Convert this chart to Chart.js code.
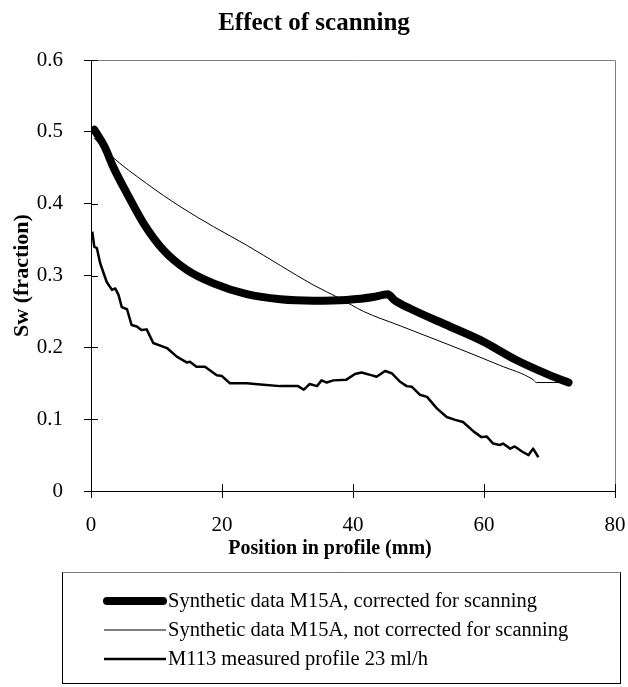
<!DOCTYPE html>
<html><head><meta charset="utf-8">
<script src="https://cdn.jsdelivr.net/npm/chart.js@4/dist/chart.umd.min.js"></script>
<style>html,body{margin:0;padding:0;background:#fff;}#wrap{width:628px;height:687px;}</style>
</head><body><div id="wrap"><canvas id="c" width="628" height="687"></canvas></div>
<script>
const chartTitle = 'Effect of scanning';
const xAxisTitle = 'Position in profile (mm)';
const yAxisTitle = 'Sw (fraction)';
const xTickValues = [0, 20, 40, 60, 80];
const yTickValues = [0, 0.1, 0.2, 0.3, 0.4, 0.5, 0.6];
const seriesNames = [
  'Synthetic data M15A, corrected for scanning',
  'Synthetic data M15A, not corrected for scanning',
  'M113 measured profile 23 ml/h'
];
const correctedX = [0.5, 2.1, 3.4, 5.5, 8.0, 11.0, 14.6, 18.7, 23.8, 28.9, 33.9, 39.0, 43.1, 44.6, 45.3, 46.3, 48.7, 54.8, 59.9, 65.0, 70.1, 72.9];
const correctedY = [0.503, 0.479, 0.451, 0.414, 0.373, 0.336, 0.308, 0.289, 0.274, 0.267, 0.265, 0.266, 0.270, 0.273, 0.274, 0.266, 0.254, 0.229, 0.208, 0.182, 0.161, 0.151];
const uncorrectedX = [0.5, 2.9, 8.5, 13.6, 18.7, 23.8, 28.9, 33.9, 38.0, 41.6, 47.2, 54.8, 62.4, 67.5, 68.0, 72.9];
const uncorrectedY = [0.491, 0.468, 0.428, 0.396, 0.368, 0.342, 0.314, 0.287, 0.268, 0.250, 0.230, 0.203, 0.175, 0.155, 0.151, 0.151];
const measuredX = [0.2, 0.5, 0.9, 1.4, 2.4, 3.2, 3.7, 4.2, 4.7, 5.5, 6.2, 7.0, 7.7, 8.5, 9.5, 11.6, 13.1, 14.6, 15.1, 16.1, 17.4, 19.2, 20.0, 21.2, 23.8, 26.3, 28.9, 31.6, 32.5, 33.4, 34.5, 35.2, 36.0, 37.0, 39.0, 40.3, 41.3, 42.9, 43.6, 44.9, 45.9, 47.2, 48.2, 49.0, 50.2, 51.3, 52.8, 54.3, 55.6, 56.8, 58.4, 59.6, 60.4, 61.4, 62.4, 62.9, 64.0, 64.7, 65.8, 66.8, 67.5, 68.3];
const measuredY = [0.361, 0.340, 0.338, 0.317, 0.291, 0.280, 0.282, 0.273, 0.256, 0.253, 0.231, 0.229, 0.224, 0.225, 0.206, 0.199, 0.187, 0.179, 0.180, 0.173, 0.173, 0.161, 0.160, 0.150, 0.150, 0.148, 0.146, 0.146, 0.141, 0.149, 0.146, 0.154, 0.151, 0.154, 0.155, 0.163, 0.165, 0.161, 0.159, 0.167, 0.164, 0.152, 0.146, 0.145, 0.134, 0.131, 0.115, 0.103, 0.099, 0.096, 0.083, 0.075, 0.076, 0.066, 0.064, 0.066, 0.059, 0.062, 0.055, 0.050, 0.059, 0.047];

const pts = (xs, ys) => xs.map((x, i) => ({x: x, y: ys[i]}));
const SERIF = '"Liberation Serif", "Times New Roman", serif';

const frameAndTicks = {
  id: 'frameAndTicks',
  beforeDatasetsDraw(chart) {
    const {ctx, chartArea: a, scales: {x, y}} = chart;
    ctx.save();
    ctx.strokeStyle = '#808080';
    ctx.lineWidth = 1;
    ctx.beginPath();
    ctx.moveTo(a.left, Math.round(a.top) + 0.5);
    ctx.lineTo(Math.round(a.right) + 0.5, Math.round(a.top) + 0.5);
    ctx.lineTo(Math.round(a.right) + 0.5, a.bottom);
    ctx.stroke();
    ctx.strokeStyle = '#000';
    ctx.beginPath();
    yTickValues.forEach(v => {
      const py = Math.round(y.getPixelForValue(v)) + 0.5;
      ctx.moveTo(a.left, py); ctx.lineTo(a.left + 7, py);
    });
    xTickValues.forEach(v => {
      const px = Math.round(x.getPixelForValue(v)) + 0.5;
      ctx.moveTo(px, a.bottom); ctx.lineTo(px, a.bottom - 7);
    });
    ctx.stroke();
    ctx.restore();
  },
  afterDraw(chart) {
    const {ctx} = chart;
    ctx.save();
    ctx.fillStyle = '#000';
    ctx.font = 'bold 20px ' + SERIF;
    ctx.textAlign = 'center';
    ctx.textBaseline = 'middle';
    ctx.fillText(xAxisTitle, 330, 549);
    ctx.restore();
  }
};

const boxLegend = {
  id: 'boxLegend',
  afterDraw(chart) {
    const {ctx} = chart;
    ctx.save();
    ctx.lineWidth = 1;
    ctx.strokeStyle = '#000';
    ctx.strokeRect(62.5, 572.5, 558, 111);
    ctx.strokeStyle = '#808080';
    ctx.beginPath(); ctx.moveTo(62.5, 572.5); ctx.lineTo(620.5, 572.5); ctx.stroke();
    ctx.font = '20.5px ' + SERIF;
    ctx.textBaseline = 'middle';
    ctx.textAlign = 'left';
    chart.data.datasets.forEach((ds, i) => {
      const yy = 601 + 29 * i;
      ctx.strokeStyle = ds.borderColor;
      ctx.lineWidth = ds.borderWidth;
      ctx.lineCap = ds.borderCapStyle || 'butt';
      ctx.beginPath();
      ctx.moveTo(i === 0 ? 107 : 104, yy);
      ctx.lineTo(i === 0 ? 163 : 166, yy);
      ctx.stroke();
      ctx.fillStyle = '#000';
      ctx.fillText(ds.label, 168, yy + 1);
    });
    ctx.restore();
  }
};

new Chart(document.getElementById('c'), {
  type: 'scatter',
  data: {
    datasets: [
      {label: seriesNames[0], data: pts(correctedX, correctedY), showLine: true, borderColor: '#000', borderWidth: 8, borderCapStyle: 'round', borderJoinStyle: 'round', pointRadius: 0, cubicInterpolationMode: 'monotone'},
      {label: seriesNames[1], data: pts(uncorrectedX, uncorrectedY), showLine: true, borderColor: '#000', borderWidth: 1, pointRadius: 0, cubicInterpolationMode: 'monotone'},
      {label: seriesNames[2], data: pts(measuredX, measuredY), showLine: true, borderColor: '#000', borderWidth: 2.5, borderJoinStyle: 'round', pointRadius: 0, tension: 0}
    ]
  },
  options: {
    responsive: false,
    animation: false,
    devicePixelRatio: 1,
    layout: {padding: {left: 0, right: 0, top: 0, bottom: 122}},
    plugins: {
      legend: {display: false},
      tooltip: {enabled: false},
      title: {display: true, text: chartTitle, color: '#000', font: {family: SERIF, size: 25, weight: 'bold'}, padding: {top: 9, bottom: 21}}
    },
    scales: {
      x: {
        type: 'linear', min: 0, max: 80,
        afterBuildTicks: s => { s.ticks = xTickValues.map(v => ({value: v})); },
        afterFit: s => { s.height = 74; s.paddingRight = 13; s.paddingLeft = 0; },
        ticks: {color: '#000', font: {family: SERIF, size: 21}, padding: 15, maxRotation: 0},
        grid: {drawOnChartArea: false, drawTicks: true, tickLength: 7, color: '#000'},
        border: {color: '#000', width: 1},
        title: {display: false, text: xAxisTitle}
      },
      y: {
        type: 'linear', min: 0, max: 0.6,
        afterBuildTicks: s => { s.ticks = yTickValues.map(v => ({value: v})); },
        afterFit: s => { s.width = 91; },
        ticks: {color: '#000', font: {family: SERIF, size: 21}, padding: 21, callback: v => v === 0 ? '0' : v.toFixed(1)},
        grid: {drawOnChartArea: false, drawTicks: true, tickLength: 7, color: '#000'},
        border: {color: '#000', width: 1},
        title: {display: true, text: yAxisTitle, color: '#000', font: {family: SERIF, size: 22, weight: 'bold'}, padding: {top: 9, bottom: 0}}
      }
    }
  },
  plugins: [frameAndTicks, boxLegend]
});
</script>
</body></html>
